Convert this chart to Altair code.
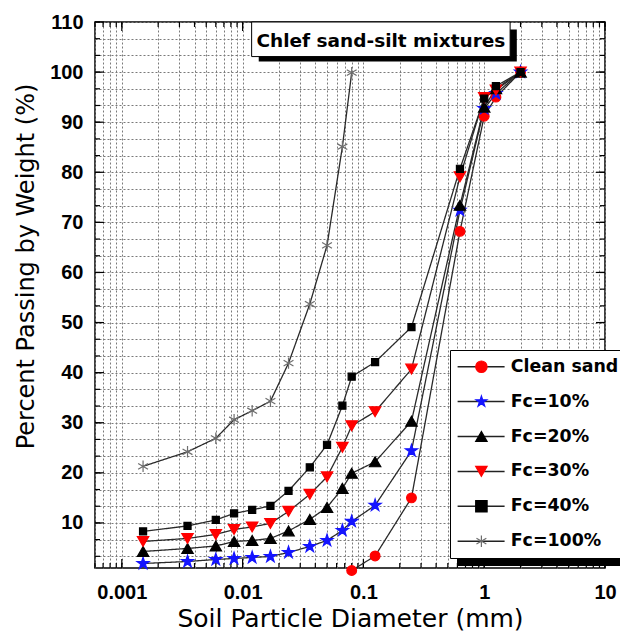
import altair as alt
import pandas as pd

# ---------------- data ----------------
diam = [0.0015, 0.0035, 0.006, 0.0085, 0.012, 0.017, 0.024, 0.036, 0.05,
        0.067, 0.08, 0.125, 0.25, 0.63, 1.0, 1.25, 2.0]

series_names = ["Clean sand", "Fc=10%", "Fc=20%", "Fc=30%", "Fc=40%", "Fc=100%"]

clean_sand = [None] * 10 + [0.5, 3.4, 15.0, 68.2, 91.2, 95.0, 100]
fc10 = [1.9, 2.3, 2.7, 2.9, 3.1, 3.3, 4.1, 5.3, 6.5, 8.5, 10.3, 13.5, 24.4, 72.4, 92.7, 95.7, 100]
fc20 = [4.3, 4.9, 5.4, 6.3, 6.5, 6.9, 8.4, 10.7, 13.1, 16.9, 19.9, 22.2, 30.3, 73.4, 93.0, 96.7, 100]
fc30 = [6.3, 6.9, 7.7, 8.7, 9.2, 9.9, 12.3, 15.7, 19.2, 25.1, 29.4, 32.2, 40.7, 79.1, 94.9, 96.4, 100]
fc40 = [8.3, 9.4, 10.6, 11.9, 12.6, 13.4, 16.4, 21.1, 25.6, 33.4, 39.2, 42.1, 49.1, 80.7, 94.7, 97.2, 100]
fc100 = [21.3, 24.2, 26.9, 30.6, 32.4, 34.3, 41.9, 53.7, 65.4, 85.1, 99.9] + [None] * 6

series_values = [clean_sand, fc10, fc20, fc30, fc40, fc100]

# axis tick / grid positions
x_major = [0.001, 0.01, 0.1, 1, 10]
x_grid = [float(f"{m}e{e}") for e in range(-4, 1) for m in range(1, 10)]
x_grid = [v for v in x_grid if 0.0006 <= v <= 10] + [10.0]
y_major = [10, 20, 30, 40, 50, 60, 70, 80, 90, 100, 110]
y_grid = [round(10 * k / 3, 4) for k in range(1, 34)]

rows = []
for name, vals in zip(series_names, series_values):
    for d, v in zip(diam, vals):
        if v is not None:
            rows.append({"d": d, "p": v, "series": name,
                         "series_line": name, "series_shadow": name})
df = pd.DataFrame(rows)

# ---------------- styles ----------------
W, H = 510, 546
STAR = ("M0,-1L0.2245,-0.309L0.9511,-0.309L0.3633,0.118L0.5878,0.809L0,0.382"
        "L-0.5878,0.809L-0.3633,0.118L-0.9511,-0.309L-0.2245,-0.309Z")
ASTER = "M0,-1L0,1M-0.866,-0.5L0.866,0.5M-0.866,0.5L0.866,-0.5"
LINE_SYM = "M-4,0H4"
SHADOW_SYM = "M-4,0H24"
shapes = ["circle", STAR, "triangle-up", "triangle-down", "square", ASTER]
fills = ["#ff0000", "#1414ff", "#000000", "#ff0000", "#000000", "transparent"]
strokes = ["#ff0000", "#1414ff", "#000000", "#ff0000", "#000000", "#6e6e6e"]

COMIC = "DejaVu Sans"
LX, LY = 355, 328
LFS = 17.4
ROWPAD = 15.9
LPAD = 8

xscale = alt.Scale(type="log", domain=[0.0006, 10], nice=False)
yscale = alt.Scale(domain=[1, 110], nice=False, zero=False)

xaxis = alt.Axis(
    values=x_grid, grid=True, gridColor="#7a7a7a", gridDash=[2, 2], gridWidth=1,
    ticks=False, tickSize=0, domain=False, format="~g",
    labelExpr="abs(log(datum.value)/LN10 - round(log(datum.value)/LN10)) < 0.001 ? datum.label : ''",
    labelFont="Liberation Sans", labelFontWeight="bold", labelFontSize=20,
    labelColor="black", labelPadding=14, labelFlush=False, labelOverlap=False,
    title="Soil Particle Diameter (mm)", titleFont=COMIC, titleFontSize=25,
    titleFontWeight="normal", titleColor="black", titleY=58,
    titleBaseline="alphabetic", zindex=0)

yaxis = alt.Axis(
    values=y_grid, grid=True, gridColor="#7a7a7a", gridDash=[2, 2], gridWidth=1,
    ticks=False, tickSize=0, domain=False, format="~g",
    labelExpr="abs(datum.value % 10) < 0.01 ? datum.label : ''",
    labelFont="Liberation Sans", labelFontWeight="bold", labelFontSize=20,
    labelColor="black", labelPadding=12, labelOverlap=False,
    title="Percent Passing by Weight (%)", titleFont=COMIC, titleFontSize=24,
    titleFontWeight="normal", titleColor="black", titleX=-62, titleY=244,
    titleBaseline="alphabetic", zindex=0)


def X(field):
    return alt.X(field, type="quantitative", scale=xscale, axis=xaxis)


def Y(field):
    return alt.Y(field, type="quantitative", scale=yscale, axis=yaxis)


# ---------------- inward ticks on all four sides ----------------
def xticks(vals, length):
    d = pd.DataFrame({"v": vals})
    b = alt.Chart(d).mark_rule(color="black", strokeWidth=1.2).encode(
        x=X("v"), y=alt.value(H), y2=alt.value(H - length))
    t = alt.Chart(d).mark_rule(color="black", strokeWidth=1.2).encode(
        x=X("v"), y=alt.value(0), y2=alt.value(length))
    return [b, t]


def yticks(vals, length):
    d = pd.DataFrame({"v": vals})
    l = alt.Chart(d).mark_rule(color="black", strokeWidth=1.2).encode(
        y=Y("v"), x=alt.value(0), x2=alt.value(length))
    r = alt.Chart(d).mark_rule(color="black", strokeWidth=1.2).encode(
        y=Y("v"), x=alt.value(W), x2=alt.value(W - length))
    return [l, r]


tick_layers = xticks(x_grid, 5) + xticks(x_major, 9) + yticks(y_grid, 5) + yticks(y_major, 9)

# ---------------- legends ----------------
common_leg = dict(orient="none", direction="vertical", title=None,
                  labelFont=COMIC, labelFontWeight="bold", labelFontSize=LFS,
                  labelLimit=400, rowPadding=ROWPAD, padding=LPAD)

leg_shadow = alt.Legend(legendX=LX + 7, legendY=LY + 7, fillColor="black",
                        strokeColor="black", labelColor="black", labelOpacity=0,
                        labelExpr="' '", labelOffset=0, symbolOpacity=0,
                        symbolType=SHADOW_SYM, symbolSize=138, symbolStrokeWidth=1.5,
                        symbolFillColor="transparent", symbolStrokeColor="black",
                        symbolOffset=14.4, **common_leg)
leg_lines = alt.Legend(legendX=LX, legendY=LY, fillColor="white", strokeColor="black",
                       labelColor="black", symbolStrokeColor="#222222",
                       symbolType=LINE_SYM, symbolSize=138, symbolStrokeWidth=1.5,
                       symbolFillColor="transparent", symbolOffset=14.4,
                       labelOffset=20.9, **common_leg)
leg_marks = alt.Legend(legendX=LX, legendY=LY, labelOpacity=0, labelExpr="' '",
                       symbolSize=130, symbolStrokeWidth=1.2, symbolOffset=14.7,
                       labelOffset=0, **common_leg)

lines = alt.Chart(df).mark_line(strokeWidth=1.3).encode(
    x=X("d"), y=Y("p"),
    color=alt.Color("series_shadow:N", sort=series_names,
                    scale=alt.Scale(range=["#2a2a2a"] * 6),
                    legend=leg_shadow),
    strokeDash=alt.StrokeDash("series_line:N", sort=series_names,
                              scale=alt.Scale(range=[[1, 0]] * 6),
                              legend=leg_lines),
    order="d:Q",
)

points = alt.Chart(df).mark_point(opacity=1, strokeWidth=1.2).encode(
    x=X("d"), y=Y("p"),
    fill=alt.Fill("series:N", scale=alt.Scale(domain=series_names, range=fills), legend=leg_marks),
    stroke=alt.Stroke("series:N", scale=alt.Scale(domain=series_names, range=strokes), legend=leg_marks),
    shape=alt.Shape("series:N", scale=alt.Scale(domain=series_names, range=shapes), legend=leg_marks),
    size={"condition": [
        {"test": "datum.series === 'Fc=40%'", "value": 50},
        {"test": "datum.series === 'Clean sand'", "value": 95},
        {"test": "datum.series === 'Fc=10%'", "value": 160},
    ], "value": 130},
)

# ---------------- title annotation box ----------------
one = pd.DataFrame({"a": [0]})
box_shadow = alt.Chart(one).mark_rect(color="black").encode(
    x=alt.XDatum(0.0136, scale=xscale, axis=xaxis), x2=alt.X2Datum(1.862),
    y=alt.YDatum(108.5, scale=yscale, axis=yaxis), y2=alt.Y2Datum(102.1))
box = alt.Chart(one).mark_rect(fill="white", stroke="black", strokeWidth=1).encode(
    x=alt.XDatum(0.01188, scale=xscale, axis=xaxis), x2=alt.X2Datum(1.639),
    y=alt.YDatum(110, scale=yscale, axis=yaxis), y2=alt.Y2Datum(103.1))
box_text = alt.Chart(one).mark_text(
    text="Chlef sand-silt mixtures", font=COMIC, fontWeight="bold", fontSize=18.5,
    color="black", align="center", baseline="middle").encode(
    x=alt.XDatum(0.1396, scale=xscale, axis=xaxis),
    y=alt.YDatum(106.2, scale=yscale, axis=yaxis))

chart = alt.layer(
    *tick_layers, lines, points, box_shadow, box, box_text
).properties(
    width=W, height=H,
    padding={"left": 87, "top": 14, "right": 15, "bottom": 63},
    autosize=alt.AutoSizeParams(type="none"),
    background="white",
).configure_view(stroke="black", strokeWidth=1.5)

chart.save("out.html", embed_options={"renderer": "svg", "actions": False})
